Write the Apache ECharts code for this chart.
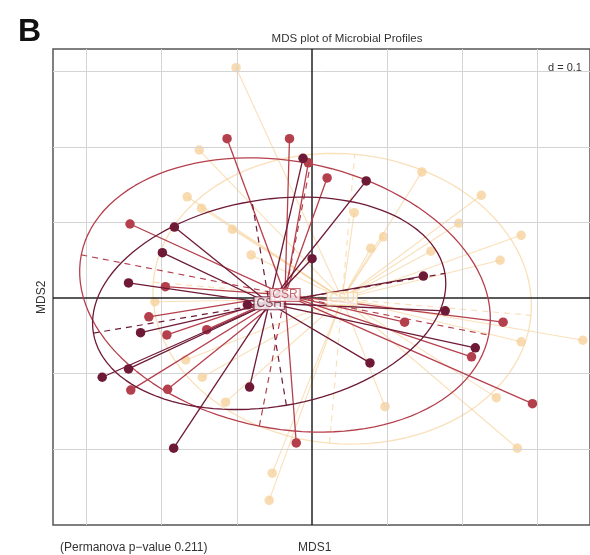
<!DOCTYPE html>
<html><head><meta charset="utf-8">
<script src="https://cdn.jsdelivr.net/npm/echarts@6/dist/echarts.min.js"></script>
<style>html,body{margin:0;padding:0;background:#fff}#c{width:590px;height:555px}</style>
</head><body><div id="c"></div>
<script>
// ---- data (MDS coordinates) ----
const groupNames = ['CSU', 'CSH', 'CSR'];
const groupColors = ['#f6cf95', '#6e1a36', '#b5404d'];
const lightPts = [[-0.101,0.305],[-0.150,0.196],[-0.166,0.134],[-0.147,0.119],[-0.106,0.091],[-0.081,0.057],[-0.209,-0.005],[-0.168,-0.082],[-0.146,-0.105],[-0.115,-0.138],[-0.053,-0.232],[-0.057,-0.268],[0.146,0.167],[0.225,0.136],[0.195,0.099],[0.278,0.083],[0.250,0.050],[0.056,0.113],[0.095,0.081],[0.078,0.066],[0.158,0.062],[0.278,-0.058],[0.360,-0.056],[0.245,-0.132],[0.273,-0.199],[0.097,-0.144]];
const darkPts = [[-0.012,0.185],[0.072,0.155],[0.000,0.052],[-0.183,0.094],[-0.199,0.060],[-0.244,0.020],[-0.228,-0.046],[-0.244,-0.094],[-0.279,-0.105],[-0.083,-0.118],[-0.184,-0.199],[0.148,0.029],[0.177,-0.017],[0.217,-0.066],[0.077,-0.086],[-0.086,-0.009]];
const redPts = [[-0.113,0.211],[-0.030,0.211],[-0.005,0.179],[0.020,0.159],[-0.242,0.098],[-0.195,0.015],[-0.217,-0.025],[-0.193,-0.049],[-0.140,-0.042],[-0.241,-0.122],[-0.192,-0.121],[-0.021,-0.192],[0.123,-0.032],[0.254,-0.032],[0.212,-0.078],[0.293,-0.140]];
const centroids = [[0.040,-0.001],[-0.057,-0.007],[-0.036,0.004]];
// ellipse semi-axes (major, minor) and rotation in degrees
const ellMajor = [0.252, 0.237, 0.276];
const ellMinor = [0.192, 0.137, 0.177];
const ellAngle = [-5, 9.6, -11.1];
const xGridTicks = [-0.3,-0.2,-0.1,0.1,0.2,0.3];
const yGridTicks = [-0.2,-0.1,0.1,0.2,0.3];
const xRange = [-0.3444, 0.3695];
const yRange = [-0.3007, 0.3298];

const groupPts = [lightPts, darkPts, redPts];
const FONT = 'Liberation Sans, Arial, sans-serif';

function ellipsePts(i){
  const out=[]; const c=centroids[i], a=ellMajor[i], b=ellMinor[i], t=ellAngle[i]*Math.PI/180;
  for(let k=0;k<=120;k++){const u=k/120*2*Math.PI;
    out.push([c[0]+a*Math.cos(u)*Math.cos(t)-b*Math.sin(u)*Math.sin(t), c[1]+a*Math.cos(u)*Math.sin(t)+b*Math.sin(u)*Math.cos(t)]);}
  return out;
}
function axesSegs(i){
  const c=centroids[i], a=ellMajor[i], b=ellMinor[i], t=ellAngle[i]*Math.PI/180;
  return [
    {coords:[[c[0]-a*Math.cos(t),c[1]-a*Math.sin(t)],[c[0]+a*Math.cos(t),c[1]+a*Math.sin(t)]]},
    {coords:[[c[0]+b*Math.sin(t),c[1]-b*Math.cos(t)],[c[0]-b*Math.sin(t),c[1]+b*Math.cos(t)]]}
  ];
}

const series = [];
// grid lines
series.push({type:'line', data:[], silent:true, markLine:{silent:true, symbol:'none', animation:false,
  label:{show:false}, lineStyle:{color:'#d4d4d4', width:1, type:'solid'},
  data:[...xGridTicks.map(v=>({xAxis:v})), ...yGridTicks.map(v=>({yAxis:v}))]}});
series.push({type:'line', data:[], silent:true, z:2, markLine:{silent:true, symbol:'none', animation:false,
  label:{show:false}, lineStyle:{color:'#222', width:1.5, type:'solid'},
  data:[{xAxis:0},{yAxis:0}]}});

const opac = [0.65, 1, 1];
const lineW = [1.1, 1.3, 1.3];
const zBase = [3, 6, 5];
for(let g=0; g<3; g++){
  const col = groupColors[g];
  series.push({type:'lines', coordinateSystem:'cartesian2d', silent:true, z:zBase[g],
    lineStyle:{color:col, width:lineW[g], opacity:opac[g]},
    data: groupPts[g].map(p=>({coords:[centroids[g], p]}))});
  series.push({type:'line', data:ellipsePts(g), showSymbol:false, silent:true, z:zBase[g],
    lineStyle:{color:col, width:1.3, opacity:opac[g]}});
  series.push({type:'lines', coordinateSystem:'cartesian2d', silent:true, z:zBase[g],
    lineStyle:{color:col, width:1.2, type:[6,5], opacity:opac[g]},
    data: axesSegs(g)});
  series.push({type:'scatter', data:groupPts[g], symbolSize:9.5, silent:true, z:zBase[g]+0.5,
    itemStyle:{color:col, opacity:opac[g]+0.1}});
}
// group labels
const labelZ = [7, 8, 9];
for(let g=0; g<3; g++){
  series.push({type:'scatter', data:[centroids[g]], symbolSize:0, silent:true, z:labelZ[g],
    label:{show:true, position:'inside', formatter:groupNames[g], color:groupColors[g], fontFamily:FONT, fontSize:12,
      backgroundColor:'#fff', borderColor:groupColors[g], borderWidth:1, padding:[0,2,0,2], lineHeight:12}});
}

const chart = echarts.init(document.getElementById('c'), null, {renderer:'canvas'});
chart.setOption({
  animation:false,
  backgroundColor:'#fff',
  grid:{left:53, top:49, width:539, height:476, show:true, borderColor:'#555', borderWidth:1.5, backgroundColor:'transparent'},
  xAxis:{type:'value', min:xRange[0], max:xRange[1], axisLine:{show:false}, axisTick:{show:false}, axisLabel:{show:false}, splitLine:{show:false}},
  yAxis:{type:'value', min:yRange[0], max:yRange[1], axisLine:{show:false}, axisTick:{show:false}, axisLabel:{show:false}, splitLine:{show:false}},
  title:[
    {text:'B', left:13, top:11, textStyle:{fontFamily:FONT, fontSize:32, fontWeight:'bold', color:'#111'}},
    {text:'MDS plot of Microbial Profiles', left:342, top:28, textAlign:'center', textStyle:{fontFamily:FONT, fontSize:11.5, fontWeight:'normal', color:'#333'}},
    {text:'d = 0.1', left:543, top:57, textStyle:{fontFamily:FONT, fontSize:11, fontWeight:'normal', color:'#333'}},
    {text:'(Permanova p\u2212value 0.211)', left:55, top:537, textStyle:{fontFamily:FONT, fontSize:12, fontWeight:'normal', color:'#333'}},
    {text:'MDS1', left:293, top:537, textStyle:{fontFamily:FONT, fontSize:12, fontWeight:'normal', color:'#333'}}
  ],
  graphic:[{type:'text', x:36, y:314, rotation:Math.PI/2, style:{text:'MDS2', font:'12px '+FONT, fill:'#333'}}],
  series: series
});
</script></body></html>
